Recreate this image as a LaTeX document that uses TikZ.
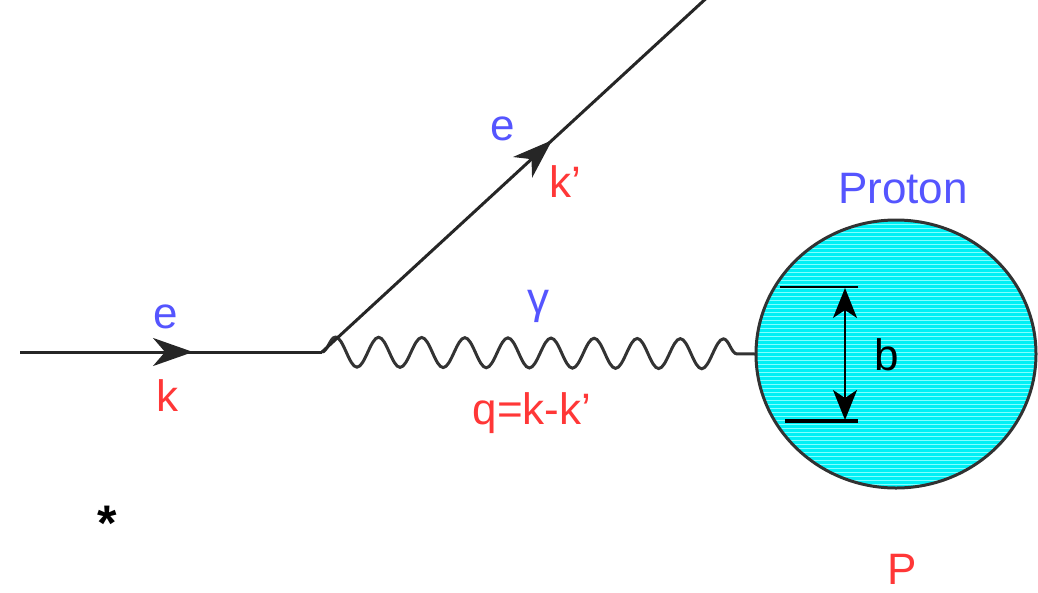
\documentclass[tikz,border=0pt]{standalone}
\usepackage{fontspec}
\setmainfont{Liberation Sans}
\usetikzlibrary{arrows.meta,decorations.markings,decorations.pathmorphing,shapes.geometric}
\definecolor{eblue}{RGB}{85,85,255}
\definecolor{kred}{RGB}{255,55,55}
\definecolor{pcyan}{RGB}{0,240,245}
\definecolor{pstripe}{RGB}{130,255,255}
\definecolor{edge}{RGB}{50,50,50}
\begin{document}
\begin{tikzpicture}[x=1pt,y=-1pt,
  lbl/.style={inner sep=0pt, outer sep=0pt, anchor=base, font=\fontsize{44}{50}\selectfont},
  fermion/.style={line width=3pt, draw=black!85, postaction={decorate},
    decoration={markings, mark=at position #1 with {\arrow{Stealth[length=40pt,width=28pt,inset=12pt]}}}},
  photon/.style={line width=3pt, draw=black!80, decorate,
    decoration={snake, segment length=43.1pt, amplitude=15pt, pre length=0pt, post length=0pt}},
  proton/.style={ellipse, draw=edge, line width=3pt, fill=pcyan, inner sep=0pt, outer sep=0pt,
    minimum width=280pt, minimum height=268pt,
    path picture={\foreach \i in {0,...,70}{\draw[pstripe, line width=0.9pt]
      ([yshift=\i*4pt]path picture bounding box.south west) -- ([yshift=\i*4pt]path picture bounding box.south east);}}},
  dim/.style={line width=1.8pt, {Stealth[length=30pt,width=24pt,inset=8pt]}-{Stealth[length=30pt,width=24pt,inset=8pt]}}
]
\useasboundingbox (0,0) rectangle (1038,592);
% coordinates
\coordinate (ein) at (20,352);
\coordinate (vtx) at (322,352);
\coordinate (eout) at (712,-7);
\node[proton] (prot) at (896,354) {};
% lines
\draw[photon] (vtx) -- (prot.west);
\draw[fermion=0.573] (ein) -- (vtx);
\draw[fermion=0.59] (vtx) -- (eout);
% b dimension
\coordinate (bt1) at (780,287);
\coordinate (bt2) at (858,287);
\coordinate (bb1) at (785,421);
\coordinate (bb2) at (858,421);
\coordinate (btop) at (845,288);
\coordinate (bbot) at (845,420);
\draw[line width=1.5pt] (bt1) -- (bt2);
\draw[line width=4.5pt] (bb1) -- (bb2);
\draw[dim] (btop) -- (bbot);
% labels
\node[lbl, text=eblue] (e1) at (166,328) {e};
\node[lbl, text=kred] (k1) at (167,411) {k};
\node[lbl, text=eblue] (e2) at (503,140) {e};
\node[lbl, text=kred, anchor=base west] (k2) at (549,197) {k'};
\node[lbl, text=eblue] (g) at (538,313) {γ};
\node[lbl, text=kred] (q) at (532,424) {q=k-k'};
\node[lbl, text=eblue] (pl) at (903,203) {Proton};
\node[lbl, text=black] (b) at (887,370) {b};
\node[lbl, text=kred] (P) at (902,584) {P};
\node[lbl, anchor=center, font=\fontsize{50}{50}\selectfont\bfseries] (star) at (107,523) {*};
\end{tikzpicture}
\end{document}
